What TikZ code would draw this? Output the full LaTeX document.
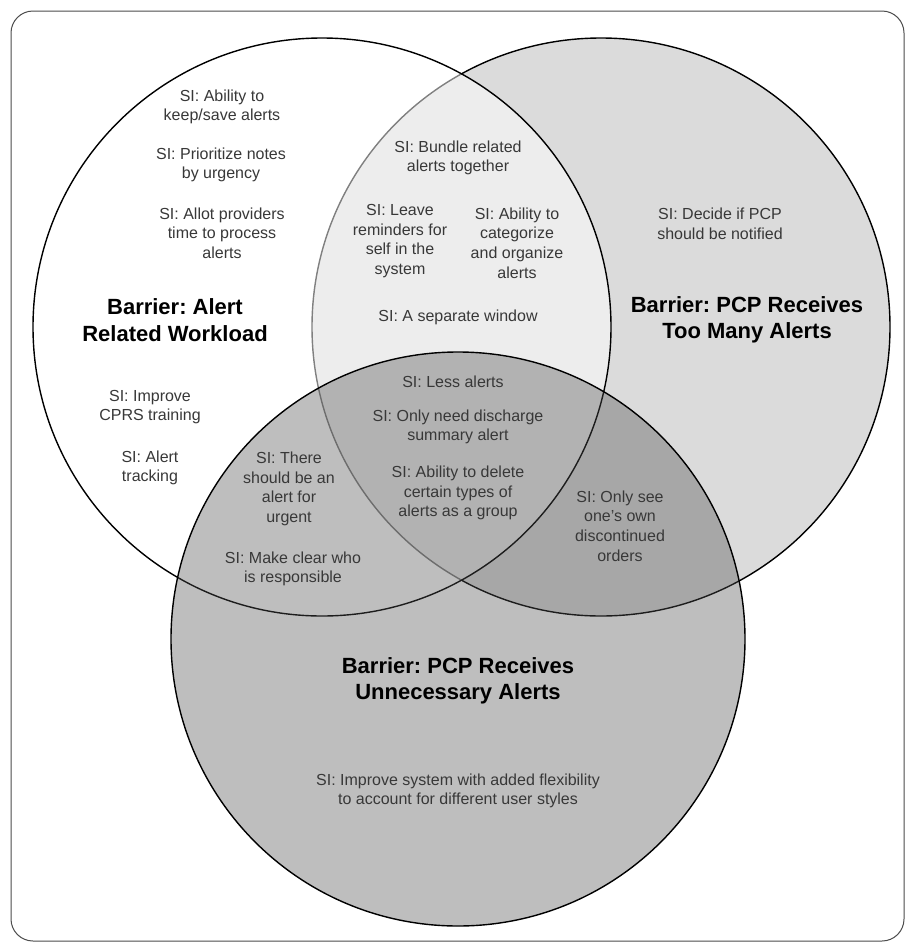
\documentclass[tikz,border=0pt]{standalone}
\usepackage{fontspec}
\setmainfont{Liberation Sans}
\frenchspacing
\begin{document}
\begin{tikzpicture}[x=1pt,y=-1pt,
    si/.style={font=\fontsize{16}{19.7}\selectfont,text=black!78,align=center},
    barrier/.style={font=\fontsize{22}{26.5}\selectfont\bfseries,align=center}]
\fill[white] (0,0) rectangle (906,943);
\useasboundingbox (0,0) rectangle (906,943);
\draw[black!70,line width=1pt,rounded corners=22pt] (11,11) rectangle (904,941);
% the three barriers
\draw[line width=1.4pt,fill=black!14] (601,327) circle (289pt);
\draw[line width=1.4pt,fill=white,fill opacity=0.5] (322,327) circle (289pt);
\draw[line width=1.4pt,fill=black!69,fill opacity=0.37] (458,639) circle (287pt);
% alert related workload
\node[si] (keep) at (222,107) {SI: Ability to\\keep/save alerts};
\node[si] (prio) at (221,165) {SI: Prioritize notes\\by urgency};
\node[si] (allot) at (222,233) {SI: Allot providers\\time to process\\alerts};
\node[barrier] (workload) at (175,320) {Barrier: Alert\\Related Workload};
\node[si] (cprs) at (150,407) {SI: Improve\\CPRS training};
\node[si] (track) at (150,468) {SI: Alert\\tracking};
% too many alerts
\node[si] (decide) at (720,224) {SI: Decide if PCP\\should be notified};
\node[barrier] (many) at (747,320) {Barrier: PCP Receives\\Too Many Alerts};
% workload and too many
\node[si] (bundle) at (458,158) {SI: Bundle related\\alerts together};
\node[si] (leave) at (400,241) {SI: Leave\\reminders for\\self in the\\system};
\node[si] (categ) at (517,243) {SI: Ability to\\categorize\\and organize\\alerts};
\node[si] (window) at (458,317) {SI: A separate window};
% all three
\node[si] (less) at (453,382) {SI: Less alerts};
\node[si] (disch) at (458,427) {SI: Only need discharge\\summary alert};
\node[si] (delete) at (458,493) {SI: Ability to delete\\certain types of\\alerts as a group};
% workload and unnecessary
\node[si] (urgent) at (289,489) {SI: There\\should be an\\alert for\\urgent};
\node[si] (resp) at (293,569) {SI: Make clear who\\is responsible};
% too many and unnecessary
\node[si] (own) at (620,526) {SI: Only see\\one's own\\discontinued\\orders};
% unnecessary alerts
\node[barrier] (unnec) at (458,681) {Barrier: PCP Receives\\Unnecessary Alerts};
\node[si] (flex) at (458,791) {SI: Improve system with added flexibility\\to account for different user styles};
\end{tikzpicture}
\end{document}
